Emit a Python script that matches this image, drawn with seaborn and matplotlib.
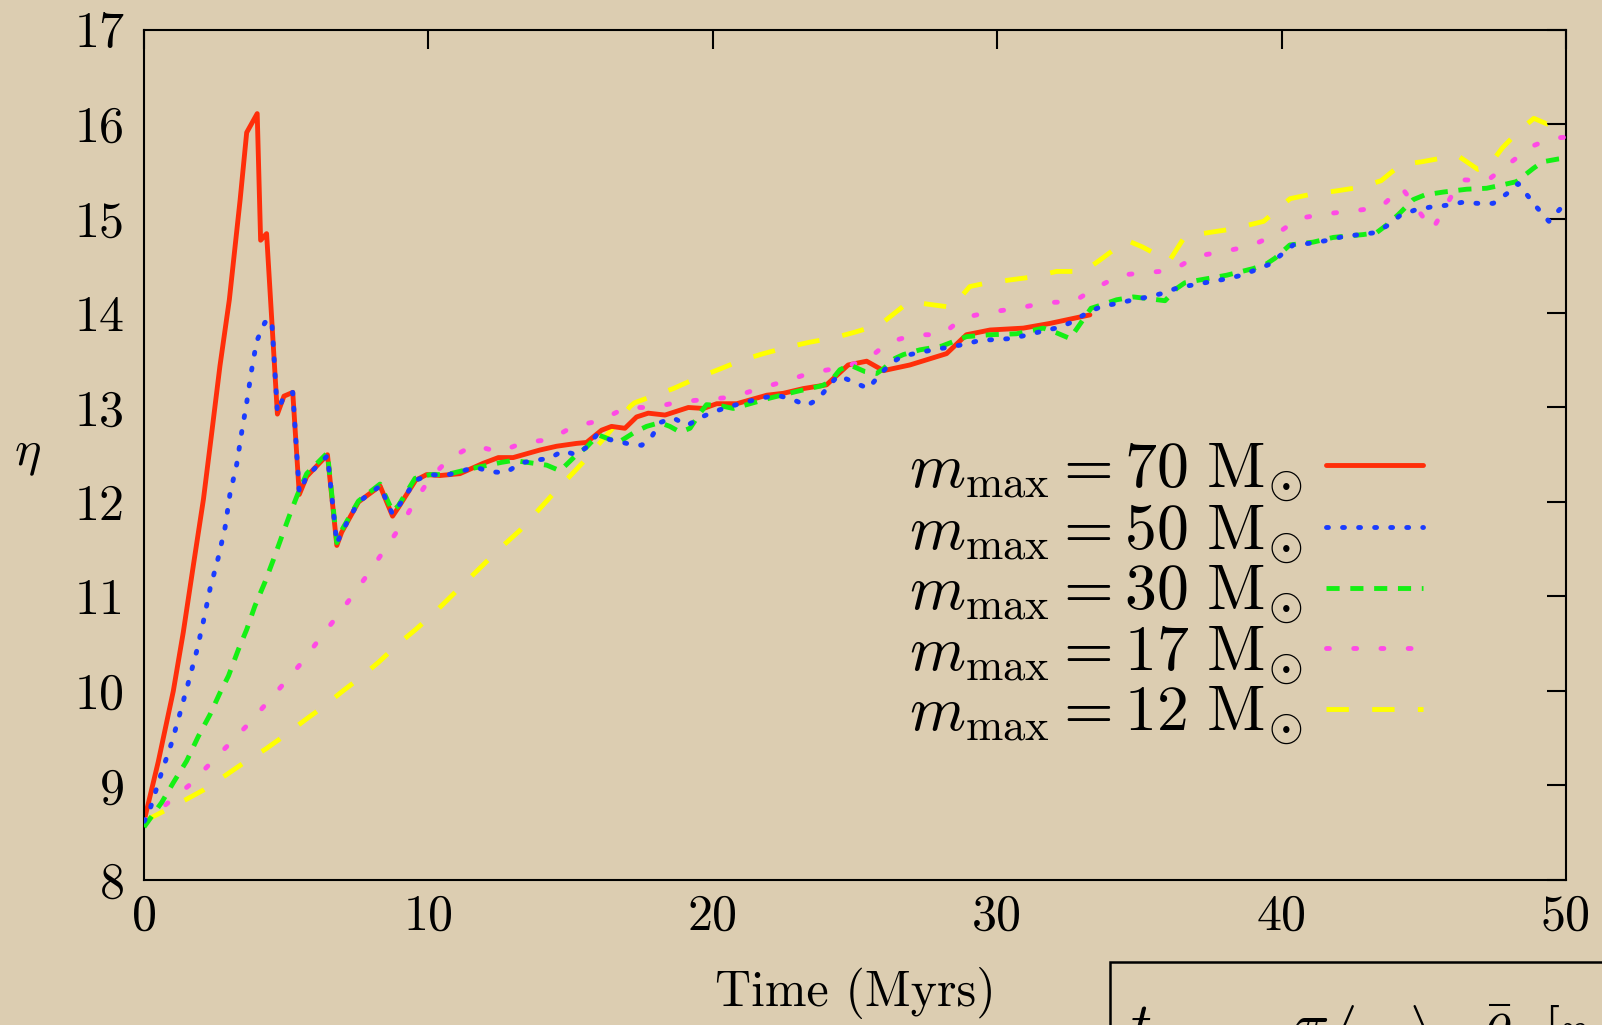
import numpy as np
import pandas as pd
import seaborn as sns
import matplotlib
matplotlib.use("Agg")
import matplotlib.pyplot as plt
from matplotlib.patches import Rectangle

# ---------------- data ----------------
t70 = [0, 0.5, 1.03, 1.38, 1.73, 2.09, 2.38, 2.67, 3.0, 3.38, 3.61, 3.98, 4.1, 4.31, 4.69, 4.92,
       5.23, 5.46, 5.72, 6.45, 6.78, 6.95, 7.54, 8.3, 8.74, 8.94, 9.55, 9.94, 10.41, 11.11, 11.93,
       12.46, 12.98, 13.92, 14.51, 15.21, 15.56, 16.09, 16.44, 16.91, 17.32, 17.73, 18.32, 19.14,
       19.67, 20.14, 20.84, 21.31, 21.9, 22.48, 23.18, 24.0, 24.76, 25.41, 26.0, 26.93, 28.22,
       28.92, 29.75, 30.92, 31.86, 33.26]
eta70 = [8.62, 9.25, 10.0, 10.62, 11.32, 12.03, 12.73, 13.44, 14.14, 15.2, 15.91, 16.11, 14.77,
         14.84, 12.93, 13.12, 13.16, 12.08, 12.27, 12.50, 11.54, 11.68, 12.0, 12.17, 11.85, 11.94,
         12.23, 12.29, 12.28, 12.30, 12.41, 12.47, 12.47, 12.55, 12.59, 12.62, 12.63, 12.76, 12.80,
         12.78, 12.90, 12.94, 12.92, 13.00, 12.99, 13.04, 13.04, 13.08, 13.13, 13.15, 13.20, 13.24,
         13.45, 13.49, 13.39, 13.45, 13.57, 13.77, 13.82, 13.84, 13.89, 13.98]

t50 = [0, 0.15, 0.62, 0.97, 1.27, 1.56, 1.85, 2.09, 2.32, 2.61, 2.85, 3.02, 3.26, 3.43, 3.61, 3.78,
       3.96, 4.25, 4.49, 4.69, 4.92, 5.23, 5.46, 5.72, 6.45, 6.78, 6.95, 7.54, 8.3, 8.74, 8.94,
       9.55, 10.06, 10.58, 11.11, 11.64, 12.17, 12.73, 13.22, 13.69, 14.25, 14.72, 15.21, 15.56,
       15.92, 16.38, 16.97, 17.5, 17.85, 18.14, 18.61, 19.1, 19.61, 20.08, 20.6, 21.19, 21.72,
       22.25, 22.77, 23.3, 23.71, 24.06, 24.41, 24.94, 25.47, 25.82, 26.23, 26.64, 27.23, 27.75,
       28.34, 28.87, 29.39, 29.98, 30.51, 31.09, 31.62, 32.21, 32.67, 33.15, 33.67, 34.2, 34.79,
       35.31, 35.84, 36.37, 36.95, 37.48, 38.04, 38.6, 39.12, 39.61, 40.04, 40.41, 41.06, 41.64,
       42.17, 42.76, 43.28, 43.75, 44.16, 44.69, 45.22, 45.8, 46.33, 46.92, 47.44, 47.91, 48.32,
       48.97, 49.4, 50]
eta50 = [8.62, 8.69, 9.14, 9.45, 9.77, 10.09, 10.42, 10.74, 11.08, 11.41, 11.73, 12.08, 12.40,
         12.73, 13.05, 13.39, 13.70, 13.90, 13.93, 12.95, 13.12, 13.16, 12.10, 12.27, 12.49, 11.56,
         11.68, 12.0, 12.17, 11.87, 11.95, 12.23, 12.29, 12.28, 12.32, 12.37, 12.32, 12.31, 12.41,
         12.44, 12.46, 12.54, 12.50, 12.58, 12.71, 12.66, 12.62, 12.60, 12.69, 12.84, 12.89, 12.81,
         12.90, 12.96, 13.01, 13.06, 13.10, 13.13, 13.09, 13.02, 13.09, 13.22, 13.34, 13.27, 13.20,
         13.33, 13.46, 13.54, 13.58, 13.61, 13.64, 13.67, 13.71, 13.72, 13.73, 13.77, 13.81, 13.85,
         13.91, 14.0, 14.07, 14.10, 14.14, 14.17, 14.21, 14.27, 14.30, 14.33, 14.36, 14.40, 14.46,
         14.52, 14.63, 14.72, 14.74, 14.77, 14.81, 14.83, 14.85, 14.93, 15.03, 15.09, 15.12, 15.14,
         15.17, 15.16, 15.16, 15.26, 15.37, 15.12, 14.97, 15.17]

t30 = [0, 0.62, 1.03, 1.5, 1.91, 2.32, 2.67, 2.97, 3.32, 3.61, 3.9, 4.25, 4.55, 4.85, 5.13, 5.4,
       5.72, 6.45, 6.78, 6.95, 7.54, 8.3, 8.74, 8.94, 9.53, 10.06, 10.64, 11.46, 12.58, 12.99,
       13.69, 14.16, 14.63, 15.21, 15.56, 15.97, 16.32, 16.68, 17.26, 17.67, 18.14, 18.49, 18.85,
       19.2, 19.55, 19.78, 20.25, 20.72, 21.31, 22.01, 22.95, 23.83, 24.12, 24.47, 24.82, 25.35,
       25.76, 26.0, 26.41, 26.7, 27.28, 28.05, 28.92, 29.75, 30.68, 31.62, 32.09, 32.56, 33.3,
       33.61, 34.2, 34.79, 35.37, 35.9, 36.31, 36.6, 37.13, 38.07, 39.0, 39.47, 39.77, 40.29,
       41.11, 41.82, 42.87, 43.34, 43.69, 44.1, 44.63, 45.04, 45.69, 46.51, 47.21, 47.68, 48.26,
       48.85, 49.18, 49.73, 50]
eta30 = [8.56, 8.82, 9.03, 9.26, 9.52, 9.75, 9.98, 10.16, 10.44, 10.65, 10.90, 11.15, 11.39,
         11.64, 11.87, 12.08, 12.30, 12.52, 11.57, 11.70, 12.01, 12.19, 11.90, 11.96, 12.25, 12.29,
         12.29, 12.35, 12.42, 12.44, 12.41, 12.39, 12.33, 12.50, 12.58, 12.71, 12.67, 12.63, 12.74,
         12.80, 12.84, 12.80, 12.74, 12.78, 12.94, 13.03, 13.02, 12.99, 13.04, 13.10, 13.17, 13.23,
         13.27, 13.40, 13.45, 13.38, 13.36, 13.41, 13.52, 13.56, 13.61, 13.65, 13.75, 13.77, 13.78,
         13.84, 13.79, 13.73, 14.05, 14.08, 14.14, 14.17, 14.15, 14.13, 14.26, 14.32, 14.35, 14.40,
         14.47, 14.52, 14.58, 14.72, 14.75, 14.80, 14.83, 14.85, 14.93, 15.04, 15.20, 15.25, 15.28,
         15.31, 15.32, 15.35, 15.39, 15.53, 15.60, 15.63, 15.64]

t17 = [0, 0.86, 1.62, 2.32, 3.0, 3.67, 4.31, 4.98, 5.6, 6.19, 6.79, 7.36, 7.95, 8.47, 9.06, 9.53,
       10.06, 10.74, 11.58, 12.49, 13.36, 14.28, 15.09, 16.03, 16.95, 17.91, 18.82, 20.7, 21.63,
       22.56, 23.48, 24.47, 25.41, 26.17, 27.11, 28.05, 28.81, 29.75, 30.74, 31.68, 32.68, 33.5,
       34.32, 35.29, 36.17, 36.99, 37.95, 38.91, 39.8, 40.59, 41.56, 42.52, 43.49, 44.22, 45.3,
       46.3, 47.23, 48.0, 48.77, 49.5, 50]
eta17 = [8.62, 8.82, 9.01, 9.23, 9.44, 9.65, 9.87, 10.10, 10.32, 10.56, 10.79, 11.02, 11.27,
         11.50, 11.76, 12.01, 12.25, 12.46, 12.60, 12.53, 12.63, 12.66, 12.80, 12.86, 13.0, 13.0,
         13.06, 13.11, 13.20, 13.28, 13.37, 13.42, 13.50, 13.69, 13.77, 13.77, 13.95, 14.01, 14.05,
         14.11, 14.12, 14.27, 14.40, 14.43, 14.45, 14.60, 14.65, 14.71, 14.83, 15.0, 15.05, 15.08,
         15.12, 15.33, 14.88, 15.41, 15.40, 15.58, 15.76, 15.85, 15.86]

t12 = [0, 0.45, 1.47, 2.08, 2.88, 3.56, 4.3, 4.95, 5.65, 6.29, 6.99, 7.6, 8.27, 8.87, 9.55, 10.15,
       11.3, 12.52, 13.22, 14.34, 15.5, 16.62, 17.09, 17.25, 18.61, 19.43, 20.19, 21.01, 21.78,
       22.65, 23.39, 24.3, 25.03, 25.9, 26.9, 28.4, 29.04, 29.51, 30.45, 31.21, 32.09, 33.05,
       33.61, 34.55, 35.1, 36.05, 36.6, 37.19, 38.07, 38.83, 39.37, 40.3, 41.09, 41.88, 42.76,
       43.5, 44.19, 44.92, 45.83, 46.22, 46.9, 47.27, 47.77, 48.36, 48.87, 49.34, 50]
eta12 = [8.62, 8.69, 8.85, 8.95, 9.11, 9.25, 9.39, 9.53, 9.69, 9.83, 10.0, 10.14, 10.31, 10.48,
         10.65, 10.81, 11.15, 11.51, 11.70, 12.07, 12.44, 12.83, 13.01, 13.05, 13.20, 13.31, 13.40,
         13.50, 13.57, 13.64, 13.69, 13.74, 13.80, 13.88, 14.12, 14.06, 14.28, 14.31, 14.35, 14.38,
         14.44, 14.44, 14.56, 14.77, 14.70, 14.55, 14.81, 14.84, 14.88, 14.93, 14.97, 15.21, 15.26,
         15.29, 15.33, 15.40, 15.57, 15.60, 15.65, 15.66, 15.52, 15.55, 15.75, 15.93, 16.06, 16.0,
         16.08]

masses = ["70", "50", "30", "17", "12"]
times = [t70, t50, t30, t17, t12]
etas = [eta70, eta50, eta30, eta17, eta12]

x_ticks = [0, 10, 20, 30, 40, 50]
y_ticks = [8, 9, 10, 11, 12, 13, 14, 15, 16, 17]

# ---------------- style ----------------
BG = "#dccdb1"
colors = {"70": "#ff2e0a", "50": "#1a3cff", "30": "#14f014", "17": "#ff4ae6", "12": "#ffff00"}
dashes = {"70": "", "50": (0.4, 2.9), "30": (2.7, 2.2), "17": (0.6, 5.0), "12": (4.6, 4.8)}

sns.set_theme(style="white")
plt.rcParams["font.family"] = "serif"
plt.rcParams["font.serif"] = ["cmr10", "DejaVu Serif"]
plt.rcParams["mathtext.fontset"] = "cm"
plt.rcParams["axes.formatter.use_mathtext"] = True

frames = []
for m, t, e in zip(masses, times, etas):
    frames.append(pd.DataFrame({"t": t, "eta": e, "mmax": m}))
df = pd.concat(frames, ignore_index=True)

fig = plt.figure(figsize=(16.02, 10.25), dpi=100, facecolor=BG)
ax = fig.add_axes([0.0899, 0.1415, 0.8876, 0.8297])
ax.set_facecolor(BG)

sns.lineplot(data=df, x="t", y="eta", hue="mmax", style="mmax", hue_order=masses,
             style_order=masses, palette=colors, dashes=dashes, estimator=None,
             sort=False, linewidth=3.5, legend=False, ax=ax)

lines = ax.get_lines()[:len(masses)]
for ln, m in zip(lines, masses):
    if m in ("50", "17"):
        ln.set_dash_capstyle("round")
    ln.set_zorder({"70": 2.5, "50": 2.9, "30": 2.8, "17": 2.6, "12": 2.4}[m])

ax.set_xlim(0, 50)
ax.set_ylim(8, 17)
ax.set_xticks(x_ticks)
ax.set_yticks(y_ticks)
ax.set_xticklabels([str(v) for v in x_ticks])
ax.set_yticklabels([str(v) for v in y_ticks])
ax.tick_params(axis="both", which="major", direction="in", length=14, width=1.5,
               top=True, right=True, labelsize=36, color="black", labelcolor="black")
ax.tick_params(axis="y", pad=14)
ax.tick_params(axis="x", pad=10)
for sp in ax.spines.values():
    sp.set_visible(True)
    sp.set_color("black")
    sp.set_linewidth(1.5)

ax.set_xlabel("Time (Myrs)", fontsize=36, color="black", labelpad=20)
ax.set_ylabel(r"$\eta$", fontsize=36, color="black", rotation=0, labelpad=34, va="center")

labels = [r"$m_{\mathrm{max}} = %s\ \mathrm{M}_{\odot}$" % m for m in masses]
leg = ax.legend(lines, labels, loc="upper right", bbox_to_anchor=(0.8994, 0.516),
                frameon=False, markerfirst=False, fontsize=46, handlelength=1.52,
                handletextpad=0.36, labelspacing=-0.05, borderpad=0, borderaxespad=0)
for txt in leg.get_texts():
    txt.set_color("black")

# partially visible annotation box at bottom right
fig.patches.append(Rectangle((1110 / 1602, -0.2), 0.6, 0.2 + (1 - 962 / 1025),
                             transform=fig.transFigure, fill=False, lw=1.8,
                             edgecolor="black", clip_on=False))
for s, xp in [(r"$t$", 1130), (r"$\pi$", 1293), (r"$\langle m\rangle$", 1330),
              (r"$\bar{\rho}$", 1480), (r"$[r_1$", 1543)]:
    fig.text(xp / 1602, 1 - 1003 / 1025, s, fontsize=42, color="black", va="top", ha="left")

fig.savefig("out.png", dpi=100, facecolor=BG)
